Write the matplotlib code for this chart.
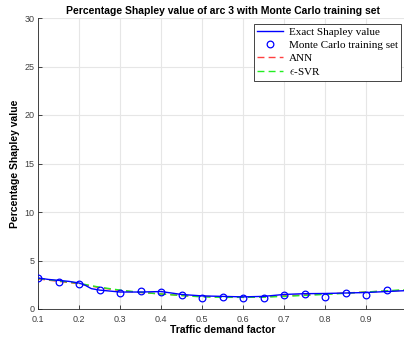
import matplotlib
matplotlib.use("Agg")
import matplotlib.pyplot as plt

x_mc = [0.10, 0.15, 0.20, 0.25, 0.30, 0.35, 0.40, 0.45, 0.50, 0.55, 0.60, 0.65, 0.70, 0.75, 0.80, 0.85, 0.90, 0.95]
y_mc = [3.2, 2.8, 2.6, 1.96, 1.6, 1.9, 1.8, 1.4, 1.1, 1.24, 1.13, 1.17, 1.44, 1.58, 1.27, 1.65, 1.47, 2.0]

x_exact = [0.10, 0.125, 0.15, 0.175, 0.20, 0.215, 0.23, 0.25, 0.275, 0.30, 0.35, 0.40, 0.45, 0.50, 0.55, 0.60, 0.65, 0.70, 0.75, 0.80, 0.85, 0.90, 0.95, 1.0]
y_exact = [3.2, 3.05, 2.95, 2.85, 2.68, 2.45, 2.1, 1.95, 1.85, 1.75, 1.75, 1.8, 1.5, 1.35, 1.3, 1.25, 1.3, 1.5, 1.58, 1.6, 1.65, 1.7, 1.8, 1.9]

x_ann = [0.10, 0.15, 0.20, 0.25, 0.30, 0.35, 0.40, 0.45, 0.50, 0.55, 0.60, 0.65, 0.70, 0.75, 0.80, 0.85, 0.90, 0.95, 1.0]
y_ann = [3.1, 2.85, 2.6, 2.2, 1.9, 1.7, 1.55, 1.4, 1.3, 1.25, 1.2, 1.25, 1.35, 1.45, 1.55, 1.65, 1.75, 1.85, 1.95]
y_svr = [3.15, 2.9, 2.65, 2.25, 1.95, 1.72, 1.55, 1.38, 1.25, 1.2, 1.2, 1.22, 1.3, 1.4, 1.5, 1.62, 1.75, 1.88, 2.0]

plt.rcParams['mathtext.fontset'] = 'cm'

fig = plt.figure(figsize=(4.04, 3.41), dpi=100)
ax = fig.add_axes([38/404, 1 - 309/341, (407-38)/404, (309-18)/341])

sans = ['Liberation Sans', 'DejaVu Sans']
serif = ['Liberation Serif', 'DejaVu Serif']

ax.plot(x_exact, y_exact, color='#0000ff', lw=1.0, label='Exact Shapley value', zorder=3)
ax.plot(x_mc, y_mc, 'o', mfc='none', mec='#0000ff', ms=4.8, mew=0.9, label='Monte Carlo training set', zorder=4)
ax.plot(x_ann, y_ann, '--', color='#ff4040', lw=1.0, dashes=(5, 3), label='ANN', zorder=2)
ax.plot(x_ann, y_svr, '--', color='#22ee22', lw=1.0, dashes=(5, 3), label=r'$\epsilon$-SVR', zorder=2)

ax.set_xlim(0.1, 1.0)
ax.set_ylim(0, 30)
ax.set_xticks([0.1, 0.2, 0.3, 0.4, 0.5, 0.6, 0.7, 0.8, 0.9])
ax.set_xticklabels(['0.1', '0.2', '0.3', '0.4', '0.5', '0.6', '0.7', '0.8', '0.9'], fontfamily=sans, fontsize=6.5)
ax.set_yticks([0, 5, 10, 15, 20, 25, 30])
ax.set_yticklabels(['0', '5', '10', '15', '20', '25', '30'], fontfamily=sans, fontsize=6.5)
ax.tick_params(direction='in', length=3, width=0.6, color='#262626', labelcolor='#404040')
ax.tick_params(axis='x', pad=4)
ax.tick_params(axis='y', pad=2.5)
ax.grid(True, color='#e6e6e6', lw=0.8)
ax.set_axisbelow(True)
for s in ['top', 'right']:
    ax.spines[s].set_visible(False)
for s in ['left', 'bottom']:
    ax.spines[s].set_color('#262626')
    ax.spines[s].set_linewidth(0.6)

ax.set_title('Percentage Shapley value of arc 3 with Monte Carlo training set', fontfamily=sans,
             fontsize=7.5, fontweight='bold', pad=3)
ax.set_xlabel('Traffic demand factor', fontfamily=sans, fontsize=7.5, fontweight='bold', labelpad=1)
ax.set_ylabel('Percentage Shapley value', fontfamily=sans, fontsize=7.5, fontweight='bold', labelpad=3)

leg = ax.legend(loc='upper right', prop={'family': serif, 'size': 8}, fancybox=False, edgecolor='#262626',
                framealpha=1, borderpad=0.35, handlelength=2.3, labelspacing=0.28, borderaxespad=0.5,
                handletextpad=0.5)
leg.get_frame().set_linewidth(0.6)

fig.savefig('out.png', dpi=100)
